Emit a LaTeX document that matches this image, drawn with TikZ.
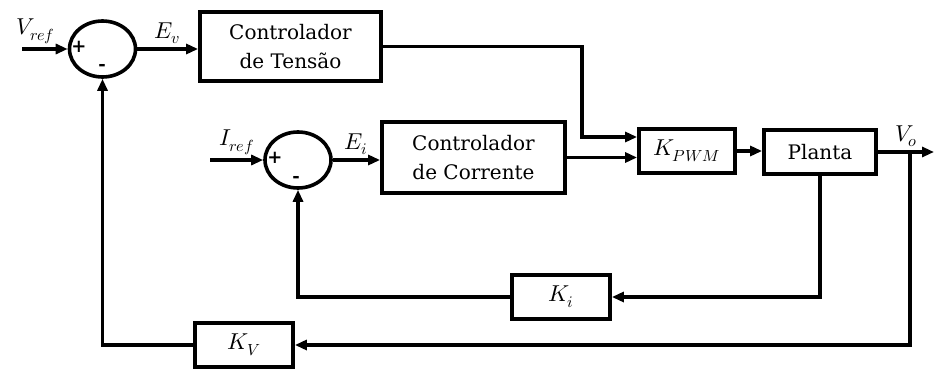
\documentclass[tikz,border=0pt]{standalone}
\usepackage{fontspec}
\usepackage{unicode-math}
\setmainfont{DejaVu Serif}
\setmathfont{Latin Modern Math}
\usetikzlibrary{arrows.meta, shapes.geometric}

\begin{document}
\begin{tikzpicture}[
    x=1pt, y=-1pt,
    >={Triangle[length=12pt, width=10pt]},
    every node/.style={font=\fontsize{20}{29}\selectfont},
    mat/.style={font=\fontsize{23}{29}\selectfont},
    blk/.style={draw, line width=3.8pt, align=center, inner sep=2pt},
    somador/.style={ellipse, draw, line width=3.6pt, minimum width=66pt,
        minimum height=56pt, inner sep=0pt},
    sinal/.style={font=\bfseries\fontsize{18}{18}\selectfont, inner sep=0pt},
    sig/.style={->, line width=3.4pt},
  ]

  % Bounding box
  \useasboundingbox (0,0) rectangle (934,369);

  % Somadores
  \node[somador] (sumv) at (102.5,49) {};
  \node[somador] (sumi) at (298,160) {};
  \node[sinal] (plusv) at (79,47) {+};
  \node[sinal] (minusv) at (102,67) {-};
  \node[sinal] (plusi) at (275,158) {+};
  \node[sinal] (minusi) at (296,179) {-};

  % Blocos
  \node[blk, minimum width=181pt, minimum height=69pt] (ctrlv) at (290.5,46.5)
    {Controlador\\de Tensão};
  \node[blk, minimum width=183pt, minimum height=71pt] (ctrli) at (473.5,157.5)
    {Controlador\\de Corrente};
  \node[blk, mat, minimum width=96pt, minimum height=44pt] (kpwm) at (687,151)
    {$K_{PWM}$};
  \node[blk, minimum width=112pt, minimum height=44pt] (planta) at (820,152)
    {Planta};
  \node[blk, mat, minimum width=98pt, minimum height=44pt] (ki) at (561,297)
    {$K_i$};
  \node[blk, mat, minimum width=98pt, minimum height=44pt] (kv) at (244,345)
    {$K_V$};

  % Entradas e saida
  \coordinate (vin) at (22,49);
  \coordinate (iin) at (210,160);
  \coordinate (vout) at (934,152);
  \coordinate (vbr) at (910,152);

  % Malha de tensao
  \draw[sig] (vin) -- (sumv.west)
    node[mat, pos=0.3, above] {$V_{ref}$};
  \draw[sig] (sumv.east) -- (sumv.east -| ctrlv.west)
    node[mat, midway, above] {$E_v$};
  \draw[sig] (ctrlv.east) -- ++(199,0) |- ([yshift=14pt]kpwm.west);

  % Malha de corrente
  \draw[sig] (iin) -- (sumi.west)
    node[mat, midway, above] {$I_{ref}$};
  \draw[sig] (sumi.east) -- (sumi.east -| ctrli.west)
    node[mat, midway, above] {$E_i$};
  \draw[sig] (ctrli.east) -- (ctrli.east -| kpwm.west);

  % Planta
  \draw[sig] (kpwm.east) -- (kpwm.east -| planta.west);
  \draw[sig] (planta.east) -- (vout)
    node[mat, midway, above] {$V_o$};

  % Realimentacoes
  \draw[sig] (planta.south) |- (ki.east);
  \draw[sig] (ki.west) -| (sumi.south);
  \draw[sig] (vbr) |- (kv.east);
  \draw[sig] (kv.west) -| (sumv.south);

\end{tikzpicture}
\end{document}
